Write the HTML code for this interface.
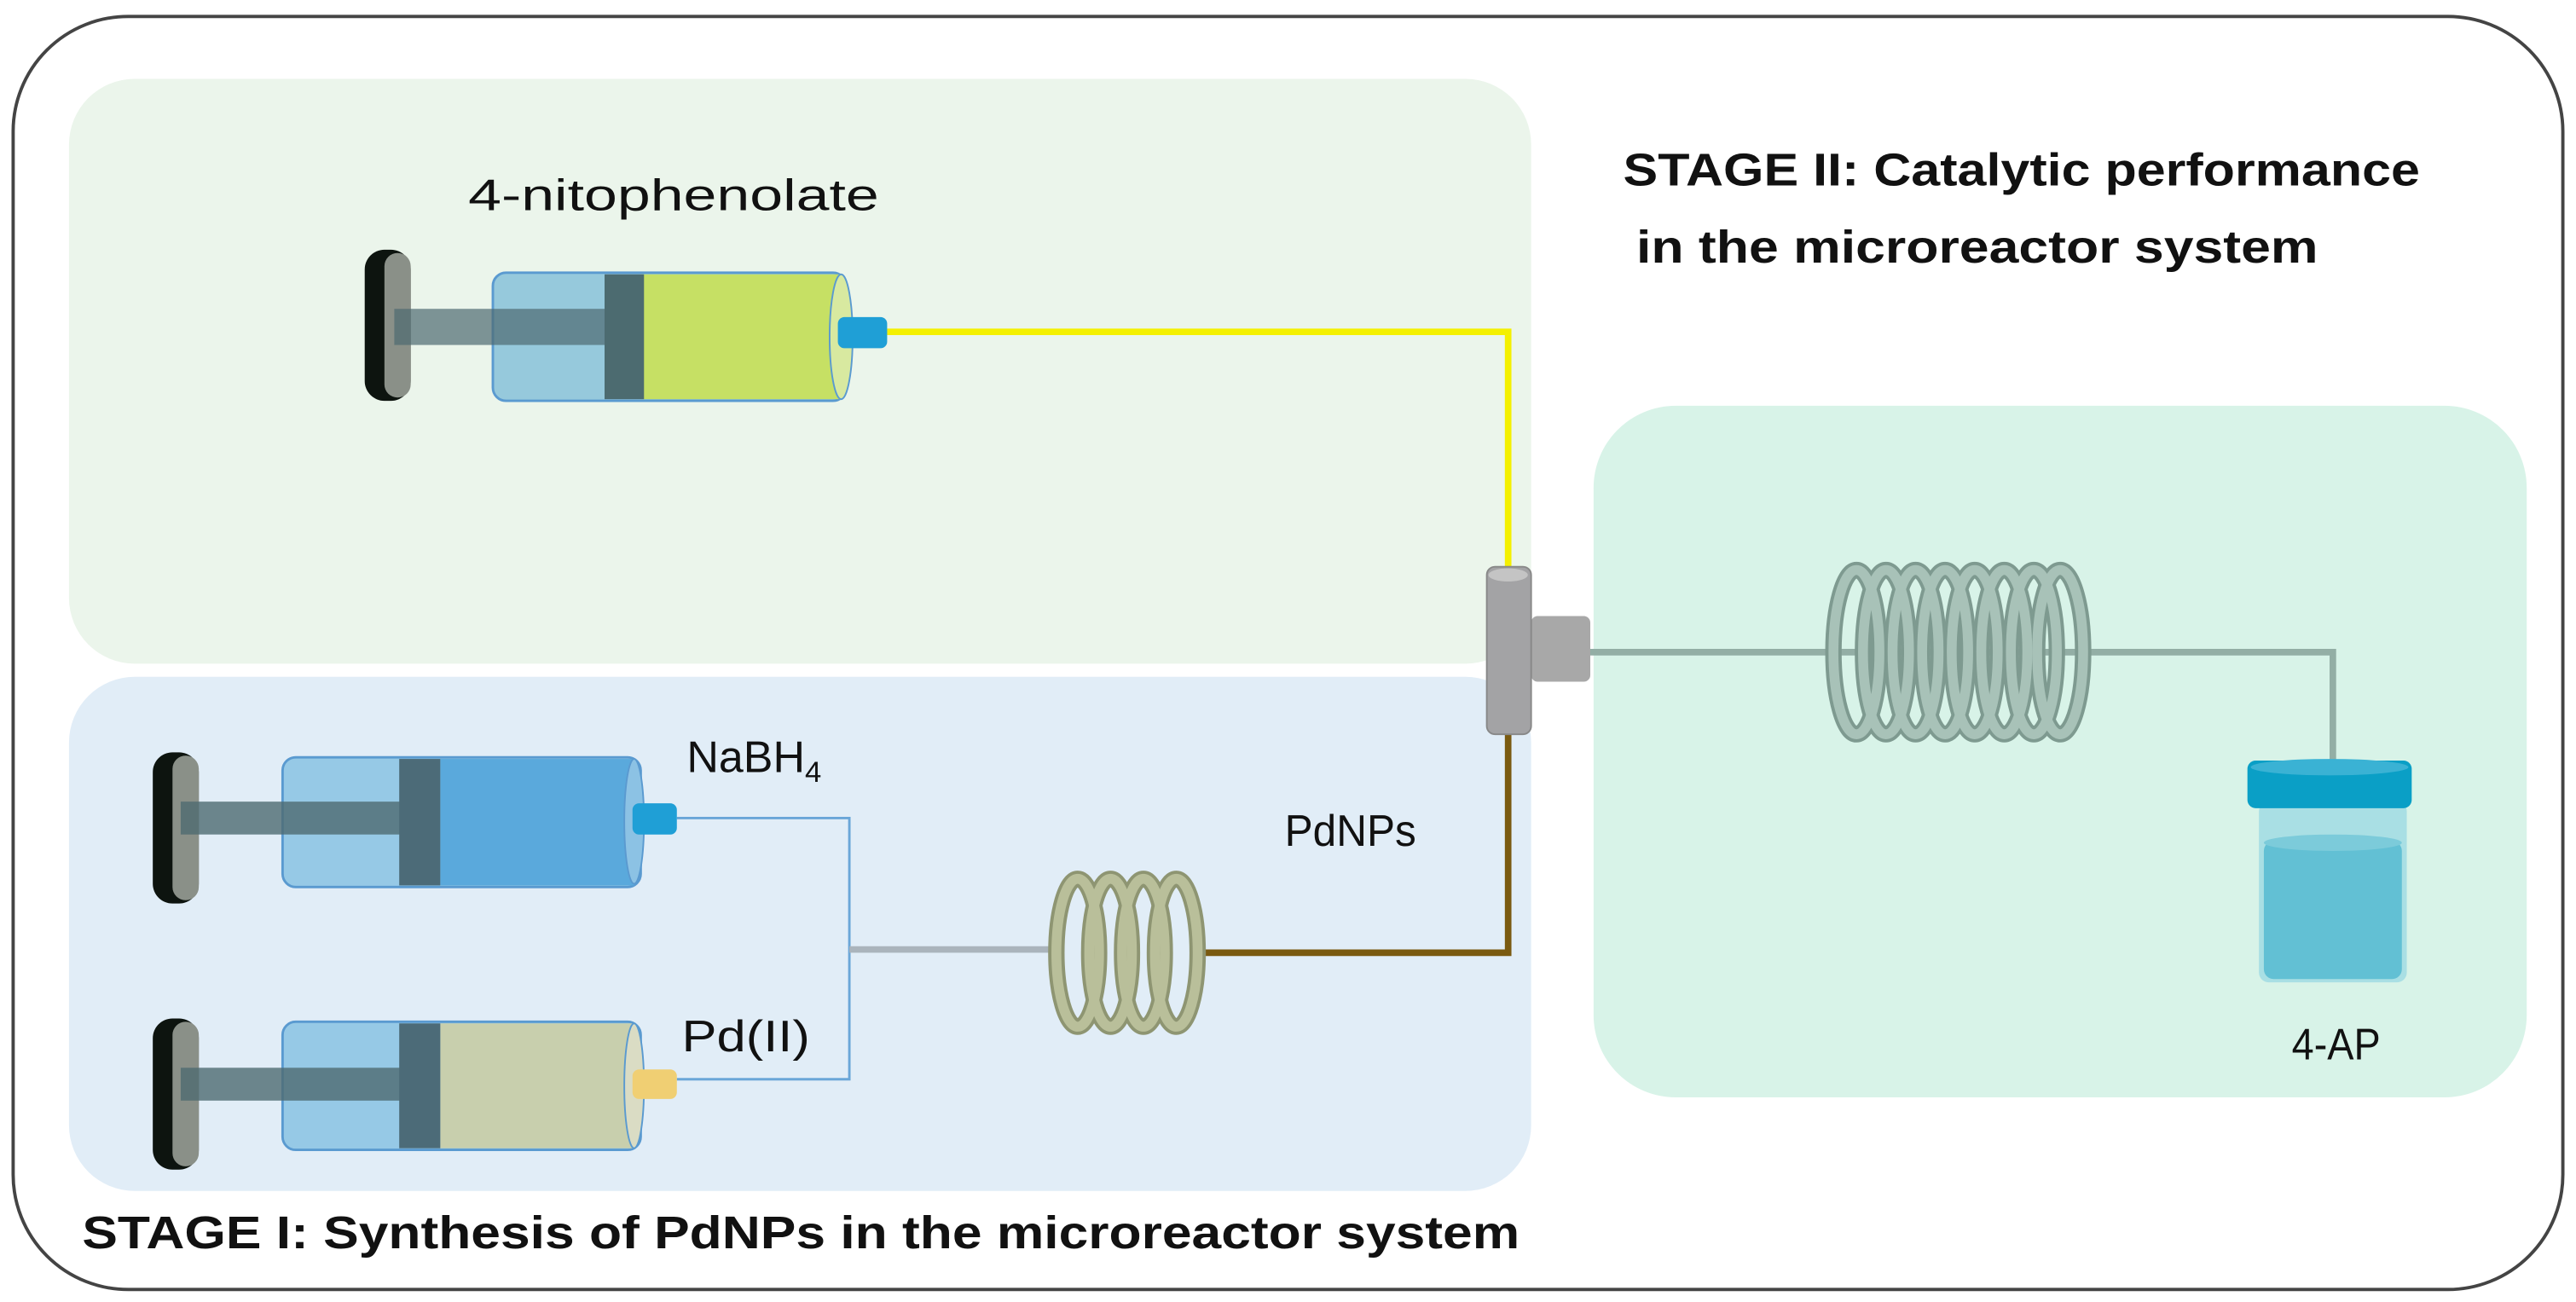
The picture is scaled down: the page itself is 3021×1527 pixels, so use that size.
<!DOCTYPE html>
<html><head><meta charset="utf-8"><style>
html,body{margin:0;padding:0;background:#fff;}
svg{display:block;}
text{font-family:"Liberation Sans","DejaVu Sans",sans-serif;fill:#111;}
</style></head><body>
<svg width="3021" height="1527" viewBox="0 0 1568 792.6" preserveAspectRatio="none" xmlns="http://www.w3.org/2000/svg">
<defs>
<g id="plunger">
  <rect x="0" y="0" width="28" height="92" rx="12" fill="#0d140f"/>
  <rect x="12" y="2" width="16" height="88" rx="8" fill="#8a9088"/>
</g>
</defs>
<rect x="8" y="10" width="1552" height="775" rx="70" fill="#fff" stroke="#444" stroke-width="2"/>
<rect x="42" y="48" width="890" height="356" rx="40" fill="#ebf5eb"/>
<rect x="42" y="412" width="890" height="313" rx="40" fill="#e1edf7"/>
<rect x="970" y="247" width="568" height="421" rx="50" fill="#d8f3e8"/>

<text x="285" y="128" font-size="27" textLength="250" lengthAdjust="spacingAndGlyphs">4-nitophenolate</text>
<text x="988" y="113" font-size="28" font-weight="bold" textLength="485" lengthAdjust="spacingAndGlyphs">STAGE II: Catalytic performance</text>
<text x="996" y="160" font-size="28" font-weight="bold" textLength="415" lengthAdjust="spacingAndGlyphs">in the microreactor system</text>
<text x="50" y="760" font-size="28" font-weight="bold" textLength="875" lengthAdjust="spacingAndGlyphs">STAGE I: Synthesis of PdNPs in the microreactor system</text>
<text x="418" y="470" font-size="27">NaBH<tspan font-size="18" dy="6">4</tspan></text>
<text x="415" y="640" font-size="27" textLength="78" lengthAdjust="spacingAndGlyphs">Pd(II)</text>
<text x="782" y="515" font-size="27" textLength="80" lengthAdjust="spacingAndGlyphs">PdNPs</text>
<text x="1395" y="645" font-size="27" textLength="54" lengthAdjust="spacingAndGlyphs">4-AP</text>

<!-- lines -->
<polyline points="540,202 918,202 918,345" fill="none" stroke="#f4f000" stroke-width="4"/>
<polyline points="412,498 517,498 517,657 412,657" fill="none" stroke="#6aa6d8" stroke-width="1.5"/>
<line x1="517" y1="578" x2="642" y2="578" stroke="#aab4bc" stroke-width="4"/>
<polyline points="728,580 918,580 918,447" fill="none" stroke="#7a5a10" stroke-width="4"/>
<polyline points="968,397 1420,397 1420,470" fill="none" stroke="#93aea5" stroke-width="4"/>

<!-- syringe 1 -->
<use href="#plunger" x="222" y="152"/>
<rect x="300" y="166" width="215" height="78" rx="8" fill="#96c9dc" stroke="#5a9ad0" stroke-width="1.5"/>
<rect x="240" y="188" width="150" height="22" fill="#4d6a70" opacity="0.7"/>
<rect x="390" y="167" width="122" height="76" fill="#c6e064"/>
<rect x="368" y="167" width="24" height="76" fill="#4c6b70"/>
<ellipse cx="512" cy="205" rx="7" ry="38" fill="#d8e9a0" stroke="#5a9ad0" stroke-width="1"/>
<rect x="510" y="193" width="30" height="19" rx="4" fill="#1f9fd6"/>

<!-- syringe 2 -->
<use href="#plunger" x="93" y="458"/>
<rect x="172" y="461" width="218" height="79" rx="8" fill="#96c9e6" stroke="#5a9ad0" stroke-width="1.5"/>
<rect x="110" y="488" width="140" height="20" fill="#4d6a70" opacity="0.8"/>
<rect x="268" y="462" width="118" height="77" fill="#5aa9dc"/>
<rect x="243" y="462" width="25" height="77" fill="#4c6b78"/>
<ellipse cx="386" cy="500" rx="6" ry="38" fill="#8cc2e4" stroke="#5a9ad0" stroke-width="1"/>
<rect x="385" y="489" width="27" height="19" rx="4" fill="#1f9fd6"/>

<!-- syringe 3 -->
<use href="#plunger" x="93" y="620"/>
<rect x="172" y="622" width="218" height="78" rx="8" fill="#96c9e6" stroke="#5a9ad0" stroke-width="1.5"/>
<rect x="110" y="650" width="140" height="20" fill="#4d6a70" opacity="0.8"/>
<rect x="268" y="623" width="118" height="76" fill="#c8cfad"/>
<rect x="243" y="623" width="25" height="76" fill="#4c6b78"/>
<ellipse cx="386" cy="661" rx="6" ry="38" fill="#dadcc4" stroke="#5a9ad0" stroke-width="1"/>
<rect x="385" y="651" width="27" height="18" rx="4" fill="#f0cf73"/>

<!-- small coil -->
<g fill="none" stroke="#8e9572" stroke-width="10">
<ellipse cx="656" cy="580" rx="13" ry="45"/><ellipse cx="676" cy="580" rx="13" ry="45"/><ellipse cx="696" cy="580" rx="13" ry="45"/><ellipse cx="716" cy="580" rx="13" ry="45"/>
</g>
<g fill="none" stroke="#b9bf9a" stroke-width="6">
<ellipse cx="656" cy="580" rx="13" ry="45"/><ellipse cx="676" cy="580" rx="13" ry="45"/><ellipse cx="696" cy="580" rx="13" ry="45"/><ellipse cx="716" cy="580" rx="13" ry="45"/>
</g>

<!-- big coil -->
<g fill="none" stroke="#7e9a90" stroke-width="10">
<ellipse cx="1130" cy="397" rx="14" ry="50"/><ellipse cx="1148" cy="397" rx="14" ry="50"/><ellipse cx="1166" cy="397" rx="14" ry="50"/><ellipse cx="1184" cy="397" rx="14" ry="50"/><ellipse cx="1202" cy="397" rx="14" ry="50"/><ellipse cx="1220" cy="397" rx="14" ry="50"/><ellipse cx="1238" cy="397" rx="14" ry="50"/><ellipse cx="1254" cy="397" rx="14" ry="50"/>
</g>
<g fill="none" stroke="#a8c2b8" stroke-width="6">
<ellipse cx="1130" cy="397" rx="14" ry="50"/><ellipse cx="1148" cy="397" rx="14" ry="50"/><ellipse cx="1166" cy="397" rx="14" ry="50"/><ellipse cx="1184" cy="397" rx="14" ry="50"/><ellipse cx="1202" cy="397" rx="14" ry="50"/><ellipse cx="1220" cy="397" rx="14" ry="50"/><ellipse cx="1238" cy="397" rx="14" ry="50"/><ellipse cx="1254" cy="397" rx="14" ry="50"/>
</g>

<!-- T piece -->
<rect x="932" y="375" width="36" height="40" rx="4" fill="#a8a8a8"/>
<rect x="905" y="345" width="27" height="102" rx="5" fill="#a3a3a5" stroke="#888" stroke-width="1"/>
<ellipse cx="918" cy="350" rx="12" ry="4" fill="#c4c4c4"/>

<!-- vial -->
<rect x="1375" y="488" width="90" height="110" rx="6" fill="#a9dfe4"/>
<rect x="1378" y="512" width="84" height="84" rx="6" fill="#62c0d4"/>
<ellipse cx="1420" cy="513" rx="42" ry="5" fill="#7ccbda"/>
<rect x="1368" y="463" width="100" height="29" rx="5" fill="#0a9fc6"/>
<ellipse cx="1418" cy="467" rx="48" ry="5" fill="#3ab2d4"/>
</svg>
</body></html>
